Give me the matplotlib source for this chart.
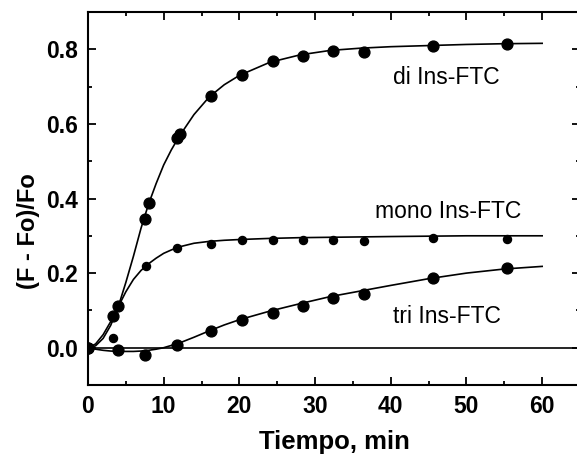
import matplotlib
matplotlib.use('Agg')
import matplotlib.pyplot as plt
from matplotlib.ticker import MultipleLocator

plt.rcParams['font.family'] = ['Liberation Sans', 'DejaVu Sans']

# measured points
di_x = [0, 3.3, 4, 7.5, 8, 11.8, 12.2, 16.2, 20.3, 24.5, 28.4, 32.4, 36.4, 45.6, 55.3]
di_y = [0, 0.084, 0.111, 0.345, 0.387, 0.562, 0.572, 0.675, 0.73, 0.768, 0.782, 0.795, 0.794, 0.81, 0.815]
mono_x = [0, 3.3, 4, 7.7, 11.8, 16.2, 20.4, 24.5, 28.4, 32.4, 36.4, 45.6, 55.3]
mono_y = [0, 0.026, 0.111, 0.22, 0.266, 0.277, 0.29, 0.29, 0.29, 0.29, 0.287, 0.295, 0.292]
tri_x = [0, 4, 7.5, 11.7, 16.2, 20.4, 24.5, 28.4, 32.4, 36.4, 45.6, 55.3]
tri_y = [0, -0.005, -0.02, 0.008, 0.044, 0.075, 0.093, 0.113, 0.133, 0.144, 0.187, 0.214]

# fitted curves
fit_x = [0, 1, 2, 3, 4, 5, 6, 7, 8, 9, 10, 11, 12, 14, 16, 18, 20, 24, 28, 32, 36, 40, 45, 50, 55, 60]
di_fit = [0, 0.005, 0.025, 0.06, 0.11, 0.175, 0.245, 0.32, 0.385, 0.44, 0.49, 0.53, 0.565, 0.625, 0.672, 0.705, 0.73, 0.765, 0.785, 0.797, 0.803, 0.807, 0.81, 0.813, 0.815, 0.816]
mono_fit = [0, 0.01, 0.035, 0.07, 0.11, 0.15, 0.183, 0.207, 0.225, 0.24, 0.253, 0.262, 0.27, 0.28, 0.285, 0.288, 0.29, 0.293, 0.295, 0.296, 0.297, 0.298, 0.299, 0.3, 0.3, 0.3]
tri_fit = [0, -0.004, -0.007, -0.009, -0.01, -0.01, -0.01, -0.009, -0.007, -0.004, 0.0, 0.006, 0.012, 0.028, 0.045, 0.061, 0.075, 0.098, 0.118, 0.137, 0.152, 0.167, 0.185, 0.2, 0.211, 0.218]

fig = plt.figure(figsize=(5.77, 4.58), dpi=100)
ax = fig.add_axes([88 / 577, 1 - 385 / 458, 492 / 577, 373 / 458])

ax.axhline(0, color='black', lw=1.2)
ax.plot(fit_x, di_fit, color='black', lw=1.2)
ax.plot(fit_x, mono_fit, color='black', lw=1.2)
ax.plot(fit_x, tri_fit, color='black', lw=1.2)
ax.plot(di_x, di_y, 'o', color='black', ms=7.8)
ax.plot(mono_x, mono_y, 'o', color='black', ms=5.8)
ax.plot(tri_x, tri_y, 'o', color='black', ms=7.8)

ax.text(47.4, 0.725, 'di Ins-FTC', fontsize=16.5, ha='center', va='center')
ax.text(47.6, 0.365, 'mono Ins-FTC', fontsize=16.5, ha='center', va='center')
ax.text(47.4, 0.083, 'tri Ins-FTC', fontsize=16.5, ha='center', va='center')

ax.set_xlim(0, 65)
ax.set_ylim(-0.1, 0.9)
ax.xaxis.set_major_locator(MultipleLocator(10))
ax.xaxis.set_minor_locator(MultipleLocator(5))
ax.yaxis.set_minor_locator(MultipleLocator(0.1))
ax.set_yticks([0, 0.2, 0.4, 0.6, 0.8])
ax.set_yticklabels(['0.0', '0.2', '0.4', '0.6', '0.8'])
ax.tick_params(which='both', direction='in', top=True, right=True, width=1.3)
ax.tick_params(which='major', length=6, labelsize=16.5, pad=7)
ax.tick_params(which='minor', length=3)
for lab in ax.get_xticklabels() + ax.get_yticklabels():
    lab.set_fontweight('bold')
for s in ax.spines.values():
    s.set_linewidth(1.5)

ax.set_xlabel('Tiempo, min', fontsize=18.5, fontweight='bold', labelpad=9)
ax.set_ylabel('(F - Fo)/Fo', fontsize=17, fontweight='bold', ha='center', va='center')
ax.yaxis.set_label_coords(-0.12, 0.413)

fig.savefig('out.png', dpi=100)
